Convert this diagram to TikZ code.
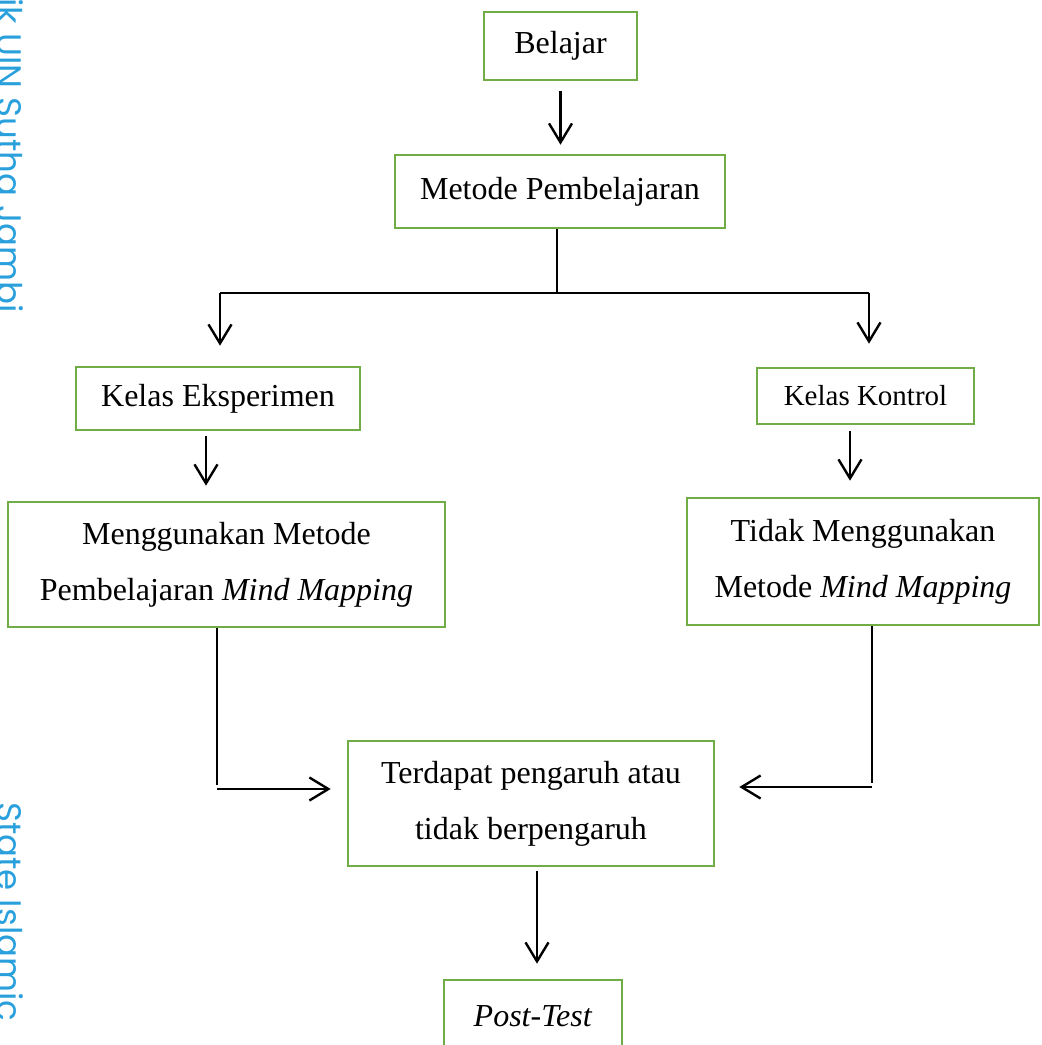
\documentclass[tikz,border=0pt]{standalone}
\usepackage{fontspec}
\setmainfont{Liberation Serif}
\newfontfamily\wmfont{Poppins}
\usetikzlibrary{arrows.meta,positioning}
\definecolor{boxgreen}{RGB}{112,173,71}
\definecolor{wmblue}{RGB}{41,160,220}
\tikzset{
  kotak/.style={draw=boxgreen, line width=1.3pt, align=center, inner sep=0pt,
    font=\fontsize{16}{28}\selectfont},
  garis/.style={line width=0.6pt},
  panah/.style={line width=1.2pt, -{Straight Barb[length=9.5pt,width=11.5pt]}},
  tandaair/.style={wmblue, font=\wmfont\fontsize{17}{17}\selectfont, rotate=-90},
}
\begin{document}
\begin{tikzpicture}[x=0.5pt,y=-0.5pt]
\useasboundingbox (0,0) rectangle (1041,1045);

% tanda air di tepi kiri
\node[tandaair, anchor=base east] (wm1) at (-3,320) {milik UIN Sutha Jambi};
\node[tandaair, anchor=base west] (wm2) at (-3,795) {State Islamic};

\node[kotak, minimum width=76.5pt, minimum height=34pt] (bel) at (560.5,46) {Belajar};
\node[kotak, minimum width=165pt, minimum height=36.5pt] (mp) at (560,191.5) {Metode Pembelajaran};
\node[kotak, minimum width=142pt, minimum height=31.5pt] (ke) at (218,398.5) {Kelas Eksperimen};
\node[kotak, font=\fontsize{14.5}{20}\selectfont, minimum width=108.5pt, minimum height=28pt] (kk) at (865.5,396) {Kelas Kontrol};
\node[kotak, minimum width=218.5pt, minimum height=62.5pt] (mm) at (226.5,564.5) {Menggunakan Metode\\Pembelajaran \textit{Mind Mapping}};
\node[kotak, minimum width=176pt, minimum height=63.5pt] (tm) at (863,561.5) {Tidak Menggunakan\\Metode \textit{Mind Mapping}};
\node[kotak, minimum width=183pt, minimum height=62.5pt] (tp) at (531,803.5) {Terdapat pengaruh atau\\tidak berpengaruh};
\node[kotak, minimum width=89pt, minimum height=36pt] (pt) at (533,1016) {\textit{Post-Test}};

\coordinate (cab) at (557,293);
\coordinate (cabL) at (220,293);
\coordinate (cabR) at (869,293);
\coordinate (cbL) at (217,785);
\coordinate (abL) at (217,789);
\coordinate (cbR) at (872,783);
\coordinate (abR) at (872,787);

\draw[panah, shorten <=5pt, shorten >=4.5pt] (bel.south) -- (bel.south |- mp.north);
\draw[garis] (mp.south -| cab) -- (cab);
\draw[line width=1pt] (cabL) -- (cabR);
\draw[panah, shorten >=10pt] (cabL) -- (cabL |- ke.north);
\draw[panah, shorten >=11.5pt] (cabR) -- (cabR |- kk.north);
\draw[panah, shorten <=2.5pt, shorten >=7.5pt] ([xshift=-6pt]ke.south) -- ([xshift=-10.25pt]mm.north);
\draw[panah, shorten <=3pt, shorten >=8pt] ([xshift=-7.75pt]kk.south) -- ([xshift=-6.5pt]tm.north);
\draw[garis] (mm.south -| cbL) -- (cbL);
\draw[panah, shorten >=8pt] (abL) -- (abL -| tp.west);
\draw[garis] (tm.south -| cbR) -- (cbR);
\draw[panah, shorten >=12pt] (abR) -- (abR -| tp.east);
\draw[panah, shorten <=2pt, shorten >=7.5pt] ([xshift=3pt]tp.south) -- ([xshift=2pt]pt.north);
\end{tikzpicture}
\end{document}
